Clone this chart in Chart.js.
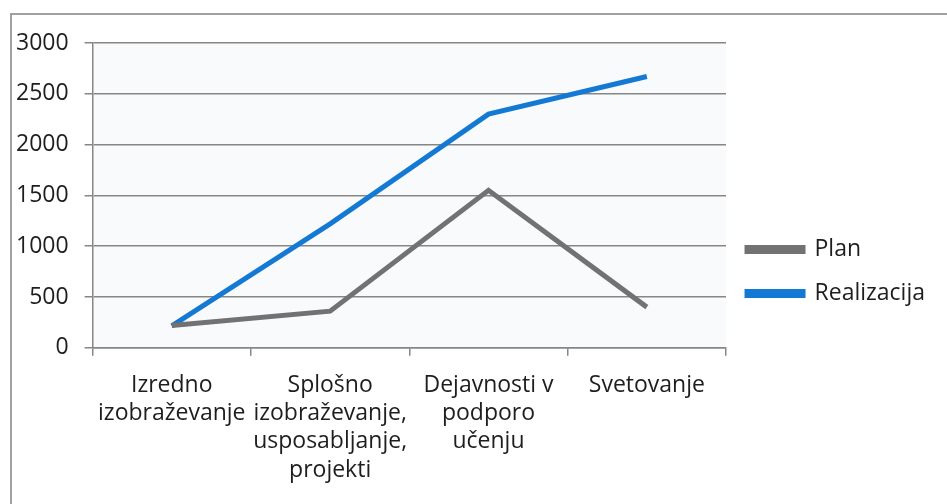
<!DOCTYPE html>
<html lang="sl">
  <head>
    <meta charset="UTF-8" />
    <title>Plan in realizacija</title>
    <style>
      html, body { margin: 0; padding: 0; background: #fff; }
      .frame {
        position: absolute; left: 10px; top: 13px;
        width: 950px; height: 520px;
        border: 2px solid #a0a0a0; box-sizing: border-box;
      }
      .chart-wrapper { position: absolute; left: 0; top: 0; width: 947px; height: 504px; }
    </style>
  </head>
  <body>
    <div class="frame"></div>
    <div class="chart-wrapper">
      <canvas id="chartLine"></canvas>
    </div>
    <script src="https://cdn.jsdelivr.net/npm/chart.js"></script>
    <script>
      const categories = [
        ["Izredno", "izobraževanje"],
        ["Splošno", "izobraževanje,", "usposabljanje,", "projekti"],
        ["Dejavnosti v", "podporo", "učenju"],
        ["Svetovanje"],
      ];
      const planValues = [220, 360, 1550, 400];
      const realizacijaValues = [215, 1220, 2300, 2670];
      const yTicks = [0, 500, 1000, 1500, 2000, 2500, 3000];

      const gridColor = "#868686";

      const plotBg = {
        id: "plotBg",
        beforeDraw(chart) {
          const { ctx, chartArea: a } = chart;
          ctx.save();
          ctx.fillStyle = "#f8fafc";
          ctx.fillRect(a.left, a.top, a.right - a.left, a.bottom - a.top);
          ctx.restore();
        },
      };

      Chart.defaults.font.family = "'Open Sans', sans-serif";
      Chart.defaults.font.size = 23;
      Chart.defaults.color = "#1e1e1e";

      new Chart(document.getElementById("chartLine"), {
        type: "line",
        data: {
          labels: categories,
          datasets: [
            {
              label: "Plan",
              data: planValues,
              borderColor: "#727272",
              backgroundColor: "#727272",
              borderWidth: 5,
              pointRadius: 0,
              tension: 0,
            },
            {
              label: "Realizacija",
              data: realizacijaValues,
              borderColor: "#1479d2",
              backgroundColor: "#1479d2",
              borderWidth: 5,
              pointRadius: 0,
              tension: 0,
            },
          ],
        },
        options: {
          responsive: true,
          maintainAspectRatio: false,
          animation: false,
          layout: { padding: { left: 0, top: 43, right: 12, bottom: 4 } },
          scales: {
            x: {
              offset: true,
              grid: {
                offset: true,
                drawOnChartArea: false,
                color: gridColor,
                lineWidth: 1.5,
                tickLength: 8,
              },
              border: { color: gridColor, width: 1.5 },
              ticks: {
                autoSkip: false,
                maxRotation: 0,
                padding: 16,
                font: { size: 23, lineHeight: 1.22 },
              },
            },
            y: {
              min: 0,
              max: 3000,
              afterBuildTicks(axis) {
                axis.ticks = yTicks.map((v) => ({ value: v }));
              },
              grid: { color: gridColor, lineWidth: 1.5, tickLength: 8 },
              border: { color: gridColor, width: 1.5 },
              ticks: {
                padding: 16,
                font: { size: 23 },
                callback: (v) => String(v),
              },
            },
          },
          plugins: {
            legend: {
              position: "right",
              labels: {
                boxWidth: 56,
                boxHeight: 4,
                padding: 21,
                font: { size: 23 },
              },
            },
            tooltip: { enabled: false },
          },
        },
        plugins: [plotBg],
      });
    </script>
  </body>
</html>
